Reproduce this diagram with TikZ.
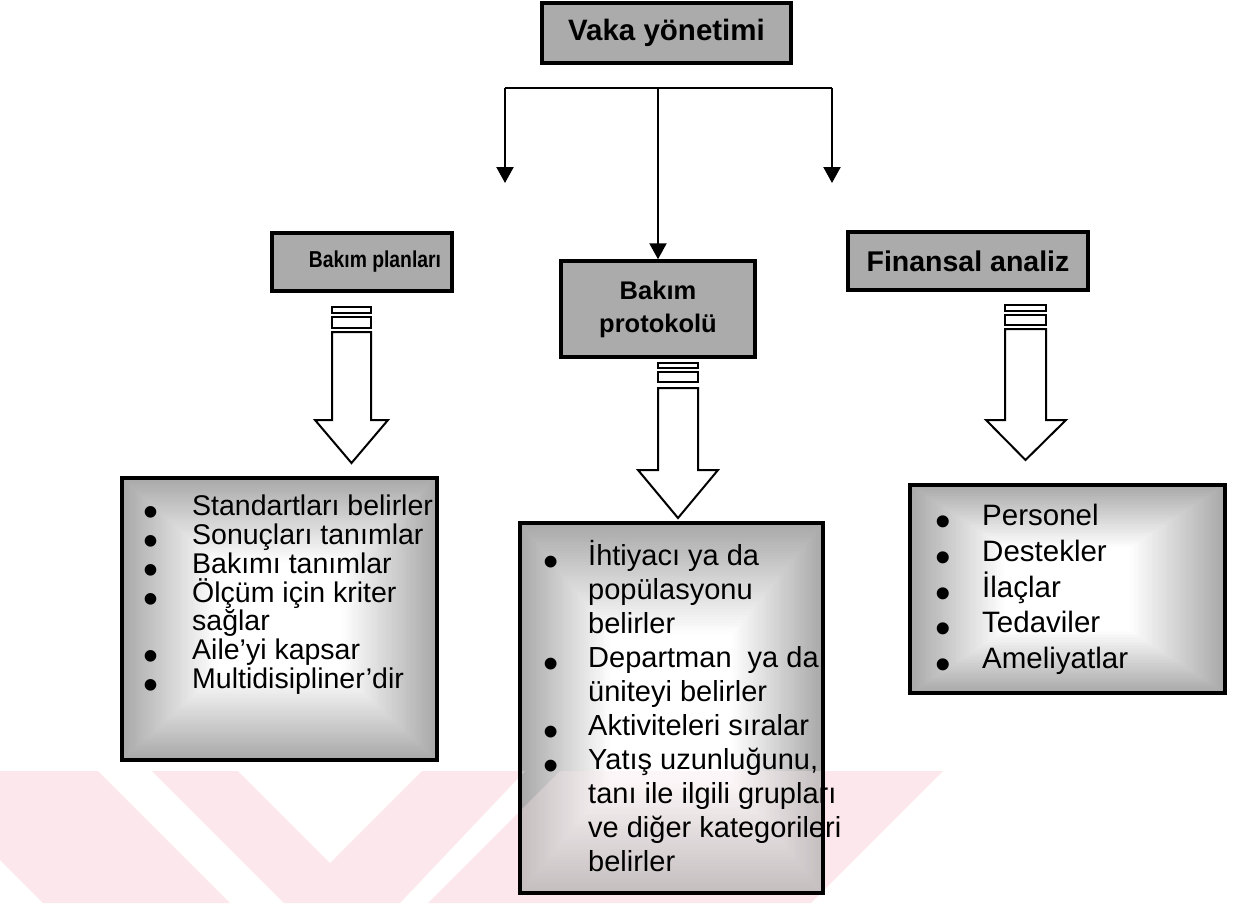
\documentclass[tikz,border=0pt]{standalone}
\usepackage{graphicx}
\usepackage{fontspec}
\setmainfont{Liberation Sans}
\usetikzlibrary{arrows.meta,calc}
\definecolor{wmpink}{RGB}{252,232,236}
\newcommand\bul[1]{\makebox[#1][l]{\raisebox{-11pt}[0pt][0pt]{\scalebox{1.5}{•}}}}
\newcommand\gradfill[2]{%
  \foreach \i in {0,...,40}{%
    \pgfmathsetmacro\f{\i*0.0075}%
    \pgfmathsetmacro\c{max(0,34*(40-\i)/40)}%
    \fill[black!\c] ($(#1)!\f!(#2)$) rectangle ($(#2)!\f!(#1)$);
  }}
\tikzset{
  titlebox/.style={draw=black, line width=3.5pt, fill=black!33, inner sep=0pt},
  listshape/.style={inner sep=0pt, draw=none},
  listborder/.style={draw=black, line width=3.5pt},
  conn/.style={line width=2.2pt},
  arr/.style={conn, -{Triangle[length=16pt,width=17pt]}},
  barrow/.style={draw=black, line width=2pt, fill=white, line join=miter},
  listtext/.style={anchor=base west, inner sep=0pt},
  lftext/.style={listtext, font=\fontsize{28.5}{29}\selectfont},
  cttext/.style={listtext, font=\fontsize{29}{34}\selectfont},
  rttext/.style={listtext, font=\fontsize{29.5}{36}\selectfont},
  wm/.style={fill=wmpink, draw=none}
}
\begin{document}
\begin{tikzpicture}[x=1pt,y=-1pt]
\useasboundingbox (0,0) rectangle (1243,903);
\fill[white] (0,0) rectangle (1243,903);

% watermark
\fill[wm] (0,771) -- (98,771) -- (230,903) -- (43,903) -- (0,860) -- cycle;
\fill[wm] (152,771) -- (238,771) -- (330,863) -- (422,771) -- (525,771) -- (400,903) -- (284,903) -- cycle;
\fill[wm] (560,771) -- (943,771) -- (811,903) -- (428,903) -- cycle;

% title boxes
\node[titlebox, minimum width=249pt, minimum height=60pt, font=\bfseries\fontsize{29.5}{33}\selectfont] (vaka) at (666.5,33) {Vaka yönetimi};
\node[titlebox, minimum width=180pt, minimum height=58pt, font=\bfseries\fontsize{23}{26}\selectfont] (plan) at (362,262) {\hspace*{26pt}\scalebox{0.84}[1]{Bakım planları}};
\node[titlebox, minimum width=194pt, minimum height=96pt, align=center, font=\bfseries\fontsize{25.5}{33}\selectfont] (proto) at (658,309) {Bakım\\protokolü};
\node[titlebox, minimum width=240pt, minimum height=58pt, font=\bfseries\fontsize{28.5}{32}\selectfont] (fin) at (968,261) {Finansal analiz};

% connectors
\coordinate (busL) at (505,88);
\coordinate (busC) at (658,88);
\coordinate (busR) at (832,88);
\coordinate (endL) at (505,183);
\coordinate (endR) at (832,183);
\draw[conn] (busL) -- (busR);
\draw[arr] (busL) -- (endL);
\draw[arr] (busC) -- (proto.north);
\draw[arr] (busR) -- (endR);

% block arrows
\draw[barrow] (332,307) rectangle (371,313);
\draw[barrow] (332,317) rectangle (371,328);
\draw[barrow] (332,332) -- (332,420) -- (315,420) -- (351.5,463) -- (388,420) -- (371,420) -- (371,332) -- cycle;

\draw[barrow] (658,363) rectangle (698,368);
\draw[barrow] (658,372) rectangle (698,382);
\draw[barrow] (658,388) -- (658,470) -- (638,470) -- (678,518) -- (718,470) -- (698,470) -- (698,388) -- cycle;

\draw[barrow] (1005,305) rectangle (1046,311);
\draw[barrow] (1005,315) rectangle (1046,325);
\draw[barrow] (1005,329) -- (1005,420) -- (986,420) -- (1025.5,460) -- (1066,420) -- (1046,420) -- (1046,329) -- cycle;

% list boxes
\node[listshape, minimum width=315pt, minimum height=282pt] (listL) at (279.5,619) {};
\node[listshape, minimum width=303pt, minimum height=370pt] (listC) at (671.5,708) {};
\node[listshape, minimum width=315pt, minimum height=208pt] (listR) at (1067.5,589) {};
\gradfill{listL.north west}{listL.south east}
\gradfill{listC.north west}{listC.south east}
\gradfill{listR.north west}{listR.south east}
\begin{scope}
  \clip (listC.north west) rectangle (listC.south east);
  \fill[wm, opacity=0.35] (152,771) -- (238,771) -- (330,863) -- (422,771) -- (525,771) -- (400,903) -- (284,903) -- cycle;
  \fill[wm, opacity=0.35] (560,771) -- (943,771) -- (811,903) -- (428,903) -- cycle;
\end{scope}
\draw[listborder] (listL.north west) rectangle (listL.south east);
\draw[listborder] (listC.north west) rectangle (listC.south east);
\draw[listborder] (listR.north west) rectangle (listR.south east);

% left list
\node[lftext] (l1) at (143,515) {\bul{49pt}Standartları belirler};
\node[lftext] (l2) at (143,544) {\bul{49pt}Sonuçları tanımlar};
\node[lftext] (l3) at (143,573) {\bul{49pt}Bakımı tanımlar};
\node[lftext] (l4) at (143,602) {\bul{49pt}Ölçüm için kriter};
\node[lftext] (l5) at (143,630) {\hspace*{49pt}sağlar};
\node[lftext] (l6) at (143,659) {\bul{49pt}Aile'yi kapsar};
\node[lftext] (l7) at (143,688) {\bul{49pt}Multidisipliner'dir};

% centre list
\node[cttext] (c1) at (543,565) {\bul{45pt}İhtiyacı ya da};
\node[cttext] (c2) at (543,599) {\hspace*{45pt}popülasyonu};
\node[cttext] (c3) at (543,633) {\hspace*{45pt}belirler};
\node[cttext] (c4) at (543,667) {\bul{45pt}Departman\ \ ya da};
\node[cttext] (c5) at (543,701) {\hspace*{45pt}üniteyi belirler};
\node[cttext] (c6) at (543,735) {\bul{45pt}Aktiviteleri sıralar};
\node[cttext] (c7) at (543,769) {\bul{45pt}Yatış uzunluğunu,};
\node[cttext] (c8) at (543,803) {\hspace*{45pt}tanı ile ilgili grupları};
\node[cttext] (c9) at (543,837) {\hspace*{45pt}ve diğer kategorileri};
\node[cttext] (c10) at (543,871) {\hspace*{45pt}belirler};

% right list
\node[rttext] (r1) at (935,525) {\bul{47pt}Personel};
\node[rttext] (r2) at (935,561) {\bul{47pt}Destekler};
\node[rttext] (r3) at (935,597) {\bul{47pt}İlaçlar};
\node[rttext] (r4) at (935,632) {\bul{47pt}Tedaviler};
\node[rttext] (r5) at (935,668) {\bul{47pt}Ameliyatlar};
\end{tikzpicture}
\end{document}
